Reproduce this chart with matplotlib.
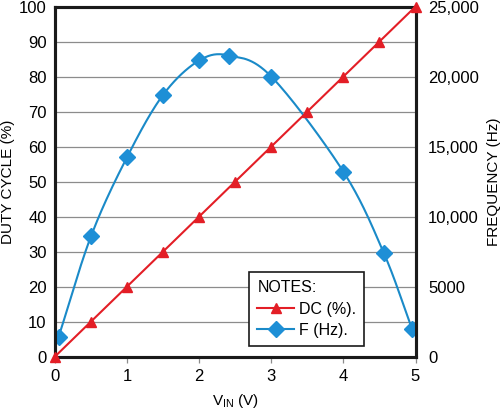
import numpy as np
import matplotlib
matplotlib.use("Agg")
import matplotlib.pyplot as plt

plt.rcParams['font.family'] = ['Liberation Sans', 'DejaVu Sans']

# Data
vin_dc = [0, 0.5, 1.0, 1.5, 2.0, 2.5, 3.0, 3.5, 4.0, 4.5, 5.0]
duty_cycle = [0, 10, 20, 30, 40, 50, 60, 70, 80, 90, 100]
vin_f = [0.05, 0.5, 1.0, 1.5, 2.0, 2.42, 3.0, 4.0, 4.56, 4.95]
freq_hz = [1400, 8600, 14250, 18700, 21150, 21500, 20000, 13200, 7400, 2000]

x_ticks = [0, 1, 2, 3, 4, 5]
left_ticks = [0, 10, 20, 30, 40, 50, 60, 70, 80, 90, 100]
right_ticks = [0, 5000, 10000, 15000, 20000, 25000]
right_labels = ['0', '5000', '10,000', '15,000', '20,000', '25,000']

RED = '#e31e26'
BLUE = '#1a8ac8'
BLUE_M = '#1e8fd6'
GRID = '#8c8c8c'


def catmull_rom(x, y, n=30):
    x = np.asarray(x, float)
    y = np.asarray(y, float)
    px = np.concatenate([[2 * x[0] - x[1]], x, [2 * x[-1] - x[-2]]])
    py = np.concatenate([[2 * y[0] - y[1]], y, [2 * y[-1] - y[-2]]])
    xs, ys = [], []
    for i in range(1, len(px) - 2):
        t = np.linspace(0, 1, n, endpoint=(i == len(px) - 3))
        for arr, out in ((px, xs), (py, ys)):
            p0, p1, p2, p3 = arr[i - 1], arr[i], arr[i + 1], arr[i + 2]
            out.append(0.5 * ((2 * p1) + (-p0 + p2) * t +
                              (2 * p0 - 5 * p1 + 4 * p2 - p3) * t ** 2 +
                              (-p0 + 3 * p1 - 3 * p2 + p3) * t ** 3))
    return np.concatenate(xs), np.concatenate(ys)


fig = plt.figure(figsize=(5.0, 4.11), dpi=100)
ax1 = fig.add_axes([0.11, 0.1326, 0.721, 0.8514])
ax2 = ax1.twinx()
ax1.set_zorder(ax2.get_zorder() + 1)
ax1.patch.set_visible(False)

# Grid drawn on the lower axis (ax2)
ax2.set_ylim(0, 25000)
ax2.set_yticks(right_ticks)
ax2.set_yticklabels(right_labels)
ax2.set_yticks(np.arange(2500, 25000, 5000), minor=True)
ax2.grid(True, which='both', axis='y', color=GRID, lw=0.9)
ax2.grid(True, which='major', axis='x', color=GRID, lw=0.9)
ax2.set_axisbelow(True)

sx, sy = catmull_rom(vin_f, freq_hz)
ax2.plot(sx, sy, color=BLUE, lw=1.5, zorder=3)
ax2.plot(vin_f, freq_hz, ls='none', marker='D', ms=8.5, color=BLUE_M,
         markeredgecolor=BLUE_M, zorder=4)

ax1.plot(vin_dc, duty_cycle, color=RED, lw=1.5, marker='^', ms=7.5,
         markerfacecolor=RED, markeredgecolor=RED, zorder=5, clip_on=False)

ax1.set_xlim(0, 5)
ax1.set_ylim(0, 100)
ax1.set_xticks(x_ticks)
ax1.set_yticks(left_ticks)

for ax in (ax1, ax2):
    for s in ax.spines.values():
        s.set_linewidth(2.2)
        s.set_color('#1a1a1a')

ax1.tick_params(axis='x', length=4, width=0.9, color=GRID, labelsize=12, pad=5)
ax1.tick_params(axis='y', length=0, labelsize=12, pad=6)
ax2.tick_params(axis='y', which='both', length=0, labelsize=12, pad=9)

ax1.set_xlabel('V$_{\\mathregular{IN}}$ (V)', fontsize=11, labelpad=6)
ax1.set_ylabel('DUTY CYCLE (%)', fontsize=11, labelpad=3)
ax2.set_ylabel('FREQUENCY (Hz)', fontsize=11, labelpad=6)

h_dc = matplotlib.lines.Line2D([], [], color=RED, lw=1.5, marker='^', ms=7.5)
h_f = matplotlib.lines.Line2D([], [], color=BLUE, lw=1.5, marker='D', ms=8.5,
                              markerfacecolor=BLUE_M, markeredgecolor=BLUE_M)
leg = ax1.legend([h_dc, h_f], ['DC (%).', 'F (Hz).'], title='NOTES:',
                 loc='upper left', bbox_to_anchor=(0.539, 0.2406),
                 fontsize=11.5, title_fontsize=11.5, alignment='left',
                 frameon=True, fancybox=False, framealpha=1,
                 edgecolor='#1a1a1a', handlelength=2.3, handletextpad=0.3,
                 borderpad=0.5, labelspacing=0.4, borderaxespad=0)
leg.get_frame().set_linewidth(1.2)
leg.set_zorder(10)

fig.savefig('out.png', dpi=100)
